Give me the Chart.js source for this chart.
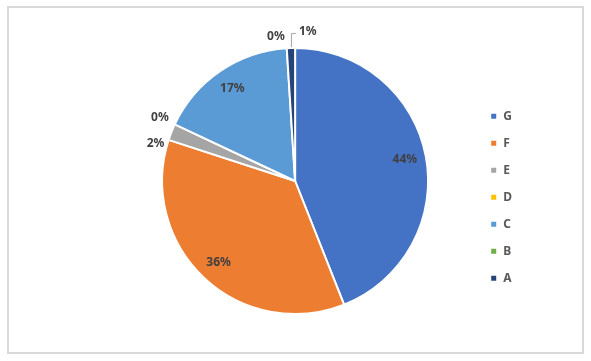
<!DOCTYPE html>
<html>
<head>
	<title></title>
	<script type="text/javascript" src="https://cdn.jsdelivr.net/npm/chart.js@4.4.0/dist/chart.umd.min.js"></script>
	<style>
		body { margin: 0; background: #fff; }
		#marco { position: absolute; left: 7px; top: 6px; width: 573px; height: 344px; border: 2px solid #d9d9d9; }
		#marco canvas { position: absolute; left: 0; top: 0; }
	</style>
</head>
<body>
	<div id="marco">
		<canvas id="chart" width="573" height="344"></canvas>
	</div>
	<script type="text/javascript">
	// datos de la grafica
	var categorias = ["G", "F", "E", "D", "C", "B", "A"];
	var valores = [44, 36, 2, 0, 17, 0, 1];
	var colores = ["#4472C4", "#ED7D31", "#A5A5A5", "#FFC000", "#5B9BD5", "#70AD47", "#264478"];

	var fuente = "'Noto Sans', 'Liberation Sans', sans-serif";

	// etiquetas de porcentaje estilo excel (dentro / fuera)
	var etiquetas = {
		id: "etiquetas",
		afterDatasetsDraw: function(chart) {
			var ctx = chart.ctx;
			var meta = chart.getDatasetMeta(0);
			var total = valores.reduce(function(a, b) { return a + b; }, 0);
			ctx.save();
			ctx.font = "bold 12px " + fuente;
			ctx.fillStyle = "#404040";
			ctx.textBaseline = "middle";
			meta.data.forEach(function(arc, i) {
				var p = arc.getProps(["x", "y", "startAngle", "endAngle", "outerRadius"], true);
				var pct = Math.round(valores[i] / total * 100);
				var txt = pct + "%";
				var mid = (p.startAngle + p.endAngle) / 2;
				var x0 = p.x + Math.cos(mid) * p.outerRadius;
				var y0 = p.y + Math.sin(mid) * p.outerRadius;
				if (pct >= 10) {
					ctx.textAlign = "center";
					ctx.fillText(txt, p.x + Math.cos(mid) * p.outerRadius * 0.84, p.y + Math.sin(mid) * p.outerRadius * 0.84);
				} else if (categorias[i] == "A") {
					// linea guia hacia la derecha
					ctx.strokeStyle = "#a6a6a6";
					ctx.lineWidth = 1;
					ctx.beginPath();
					ctx.moveTo(x0 + 0.5, y0 - 1);
					ctx.lineTo(x0 + 0.5, y0 - 14.5);
					ctx.lineTo(x0 + 5, y0 - 14.5);
					ctx.stroke();
					ctx.textAlign = "left";
					ctx.fillText(txt, x0 + 8, y0 - 16);
				} else if (categorias[i] == "B") {
					ctx.textAlign = "right";
					ctx.fillText(txt, x0 - 2, y0 - 12);
				} else if (categorias[i] == "D") {
					ctx.textAlign = "right";
					ctx.fillText(txt, x0 - 6, y0 - 7);
				} else {
					ctx.textAlign = "right";
					ctx.fillText(txt, x0 - 7, y0 + 12);
				}
			});
			ctx.restore();
		}
	};

	var canvas = document.getElementById("chart").getContext("2d");
	window.pie = new Chart(canvas, {
		type: "pie",
		data: {
			labels: categorias,
			datasets: [{
				data: valores,
				backgroundColor: colores,
				borderColor: "#ffffff",
				borderWidth: 2
			}]
		},
		options: {
			responsive: false,
			animation: false,
			layout: { padding: { left: 106, right: 60, top: 39, bottom: 37 } },
			plugins: {
				tooltip: { enabled: false },
				legend: {
					position: "right",
					title: { display: true, text: " ", padding: 9, font: { size: 12 } },
					labels: {
						boxWidth: 7,
						boxHeight: 7,
						padding: 15,
						color: "#595959",
						font: { size: 12, weight: "bold", family: fuente }
					}
				}
			}
		},
		plugins: [etiquetas]
	});
	</script>
</body>
</html>
